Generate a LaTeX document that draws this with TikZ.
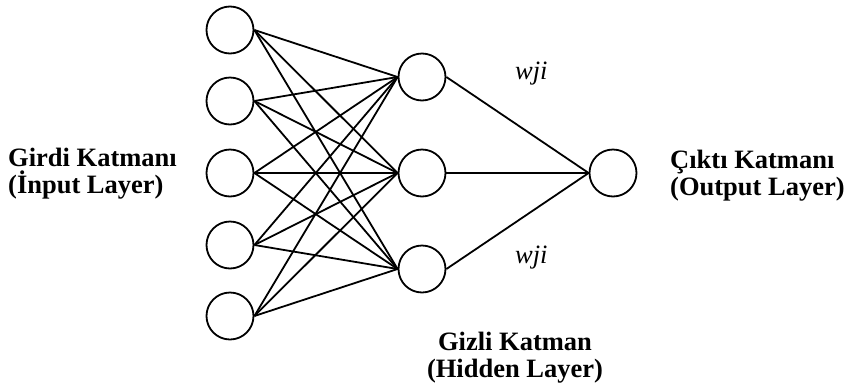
\documentclass[tikz,border=0pt]{standalone}
\usepackage{fontspec}
\setmainfont{Liberation Serif}
\begin{document}
\begin{tikzpicture}[x=1pt,y=-1pt,
  neuron/.style={circle,draw,line width=1.8pt,minimum size=47pt,inner sep=0pt},
  link/.style={line width=1.8pt},
  layerlabel/.style={inner sep=0pt,font=\fontsize{26.5}{27}\selectfont\bfseries},
  weight/.style={inner sep=0pt,font=\fontsize{26.5}{27}\selectfont\itshape}]
\useasboundingbox (0,0) rectangle (847,389);
% input layer
\node[neuron] (i1) at (230,30) {};
\node[neuron] (i2) at (230,101) {};
\node[neuron] (i3) at (230,173) {};
\node[neuron] (i4) at (230,245) {};
\node[neuron] (i5) at (230,316) {};
% hidden layer
\node[neuron] (h1) at (422,77) {};
\node[neuron] (h2) at (422,173) {};
\node[neuron] (h3) at (422,269) {};
% output layer
\node[neuron] (o) at (613,173) {};
% connections
\foreach \i in {1,...,5}
  \foreach \h in {1,2,3}
    \draw[link] (i\i.east) -- (h\h.west);
\foreach \h in {1,2,3}
  \draw[link] (h\h.east) -- (o.west);
% labels (base anchor sits on the last line)
\node[layerlabel,anchor=base west,align=left] (lin) at (8,193) {Girdi Katmanı\\(İnput Layer)};
\node[layerlabel,anchor=base,align=center] (lhid) at (515,377) {Gizli Katman\\(Hidden Layer)};
\node[layerlabel,anchor=base west,align=left] (lout) at (670,195) {Çıktı Katmanı\\(Output Layer)};
\node[weight,anchor=base west] (w1) at (515,79) {wji};
\node[weight,anchor=base west] (w2) at (515,263) {wji};
\end{tikzpicture}
\end{document}
